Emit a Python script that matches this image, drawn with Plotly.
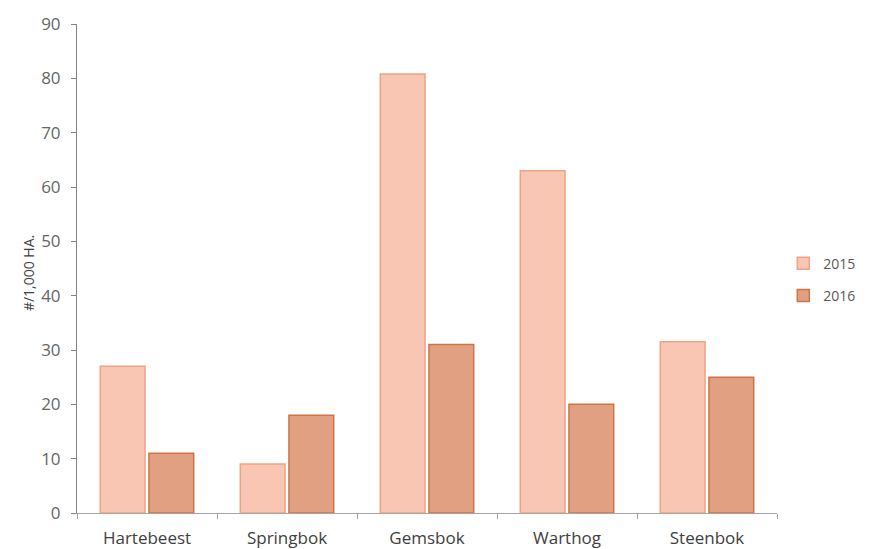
import plotly.graph_objects as go

categories = ["Hartebeest", "Springbok", "Gemsbok", "Warthog", "Steenbok"]
series_names = ["2015", "2016"]
values_2015 = [27, 9, 80.8, 63, 31.5]
values_2016 = [11, 18, 31, 20, 25]
y_title = "#/1,000 HA."

fig = go.Figure()
fig.add_trace(go.Bar(
    x=categories, y=values_2015, name=series_names[0], legendgroup="a",
    marker=dict(color="#f8c6b2", line=dict(color="#eea385", width=1.5)),
))
fig.add_trace(go.Bar(
    x=categories, y=values_2016, name=series_names[1], legendgroup="b",
    marker=dict(color="#e2a083", line=dict(color="#cd7447", width=1.5)),
))

fig.update_layout(
    width=861, height=541,
    margin=dict(l=69, r=92, t=16, b=36, autoexpand=False),
    paper_bgcolor="white", plot_bgcolor="white",
    barmode="group", bargap=0.305, bargroupgap=0.08,
    font=dict(family="Open Sans, Liberation Sans, sans-serif", size=14, color="#595959"),
    legend=dict(x=0.009, y=0.477, yanchor="middle", xanchor="left",
                xref="paper", font=dict(size=14, color="#595959"),
                tracegroupgap=11, itemwidth=30),
    yaxis=dict(range=[0, 90], dtick=10, showgrid=False, zeroline=False,
               showline=True, linecolor="#868686", linewidth=1,
               ticks="outside", ticklen=5, tickcolor="#868686",
               ticklabelstandoff=7,
               tickfont=dict(size=17, color="#666666"), automargin=False),
    xaxis=dict(showgrid=False, showline=True, linecolor="#a6a6a6", linewidth=1,
               ticks="outside", tickson="boundaries", ticklen=5, tickcolor="#a6a6a6",
               ticklabelstandoff=10,
               tickfont=dict(size=17, color="#404040"), automargin=False),
    annotations=[dict(text=y_title, textangle=-90, xref="paper", yref="paper",
                      x=-0.069, y=0.49, xanchor="center", yanchor="middle",
                      showarrow=False, font=dict(size=14, color="#404040"))],
)
fig.update_layout(legend_x=1.009)

fig.write_html("out.html")
